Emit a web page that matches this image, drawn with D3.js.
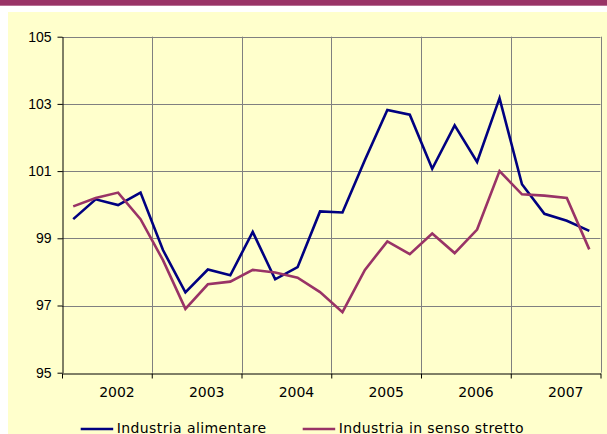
<!DOCTYPE html>
<html>
<head>
<meta charset="utf-8">
<script src="https://cdn.jsdelivr.net/npm/d3@7"></script>
<style>
  body { margin: 0; background: #fff; }
  svg { display: block; font-family: "DejaVu Sans", Verdana, sans-serif; }
</style>
</head>
<body>
<div class="chart"></div>
<script>
// quarterly series, 2002 Q1 .. 2007 Q4
var years = ['2002', '2003', '2004', '2005', '2006', '2007'];
var yTicks = [95, 97, 99, 101, 103, 105];

var alimentare = [
  99.57, 100.16, 99.99, 100.36,
  98.65, 97.39, 98.07, 97.90,
  99.19, 97.78, 98.14, 99.80,
  99.77, 101.33, 102.82, 102.68,
  101.07, 102.36, 101.27, 103.17,
  100.61, 99.73, 99.52, 99.22
];
var sensoStretto = [
  99.95, 100.20, 100.36, 99.57,
  98.35, 96.90, 97.63, 97.71,
  98.06, 97.98, 97.83, 97.40,
  96.80, 98.06, 98.91, 98.53,
  99.14, 98.56, 99.26, 101.00,
  100.31, 100.27, 100.20, 98.67
];

var series = [
  { name: 'Industria alimentare', values: alimentare, color: '#000080' },
  { name: 'Industria in senso stretto', values: sensoStretto, color: '#993366' }
];

var width = 607, height = 434;
// plot area edges (note: "top" is reserved on window, so use plot*)
var plotLeft = 62, plotRight = 600.5, plotTop = 36.7, plotBottom = 372.7;

var svg = d3.select('.chart')
  .append('svg')
  .attr('width', width)
  .attr('height', height);

// purple strip and yellow panel
svg.append('rect')
  .attr('x', 0).attr('y', 0)
  .attr('width', width).attr('height', 5.7)
  .style('fill', '#993366');

svg.append('rect')
  .attr('x', 8).attr('y', 12)
  .attr('width', width - 8).attr('height', height - 12)
  .style('fill', '#FFFFCC');

var n = alimentare.length;
var x = d3.scaleLinear().domain([0, n]).range([plotLeft, plotRight]);
var y = d3.scaleLinear().domain([95, 105]).range([plotBottom, plotTop]);

// grid
svg.append('g')
  .selectAll('line')
  .data(yTicks.slice(1))
  .enter()
  .append('line')
  .attr('x1', plotLeft).attr('x2', plotRight)
  .attr('y1', function(d) { return Math.round(y(d)) + 0.5; })
  .attr('y2', function(d) { return Math.round(y(d)) + 0.5; })
  .style('stroke', '#808080')
  .style('stroke-width', 1);

svg.append('g')
  .selectAll('line')
  .data(d3.range(4, n + 1, 4))
  .enter()
  .append('line')
  .attr('x1', function(d) { return Math.round(x(d)) + 0.5; })
  .attr('x2', function(d) { return Math.round(x(d)) + 0.5; })
  .attr('y1', plotTop).attr('y2', plotBottom)
  .style('stroke', '#808080')
  .style('stroke-width', 1);

// axes
var yAxis = d3.axisLeft(y).tickValues(yTicks).tickSize(5).tickPadding(6).tickSizeOuter(0);
var gy = svg.append('g')
  .attr('transform', 'translate(' + (plotLeft + 0.5) + ',0)')
  .call(yAxis);
gy.selectAll('text').style('font-size', '14px').style('fill', '#000').style('font-family', 'inherit');
gy.selectAll('line, path').style('stroke', '#000');

var xAxis = d3.axisBottom(x).tickValues(d3.range(0, n + 1, 4)).tickSize(5).tickSizeOuter(0).tickFormat('');
var gx = svg.append('g')
  .attr('transform', 'translate(0,' + (Math.round(plotBottom) + 0.5) + ')')
  .call(xAxis);
gx.selectAll('line, path').style('stroke', '#000');

svg.append('g')
  .selectAll('text')
  .data(years)
  .enter()
  .append('text')
  .attr('x', function(d, i) { return x(i * 4 + 2.45); })
  .attr('y', 396.7)
  .attr('text-anchor', 'middle')
  .style('font-size', '14px')
  .text(function(d) { return d; });

// lines
var line = d3.line()
  .x(function(d, i) { return x(i + 0.5); })
  .y(function(d) { return y(d); });

svg.append('g')
  .selectAll('path')
  .data(series)
  .enter()
  .append('path')
  .attr('d', function(d) { return line(d.values); })
  .style('fill', 'none')
  .style('stroke', function(d) { return d.color; })
  .style('stroke-width', 2.6)
  .style('stroke-linejoin', 'miter');

// legend
var legendX = [80.7, 302.7];
var legend = svg.append('g')
  .selectAll('g')
  .data(series)
  .enter()
  .append('g')
  .attr('transform', function(d, i) { return 'translate(' + legendX[i] + ',429)'; });

legend.append('line')
  .attr('x1', 0).attr('x2', 32.5)
  .attr('y1', 0).attr('y2', 0)
  .style('stroke', function(d) { return d.color; })
  .style('stroke-width', 2.6);

legend.append('text')
  .attr('x', 36)
  .attr('y', 3.8)
  .style('font-size', '14px')
  .style('letter-spacing', '0.4px')
  .text(function(d) { return d.name; });
</script>
</body>
</html>
